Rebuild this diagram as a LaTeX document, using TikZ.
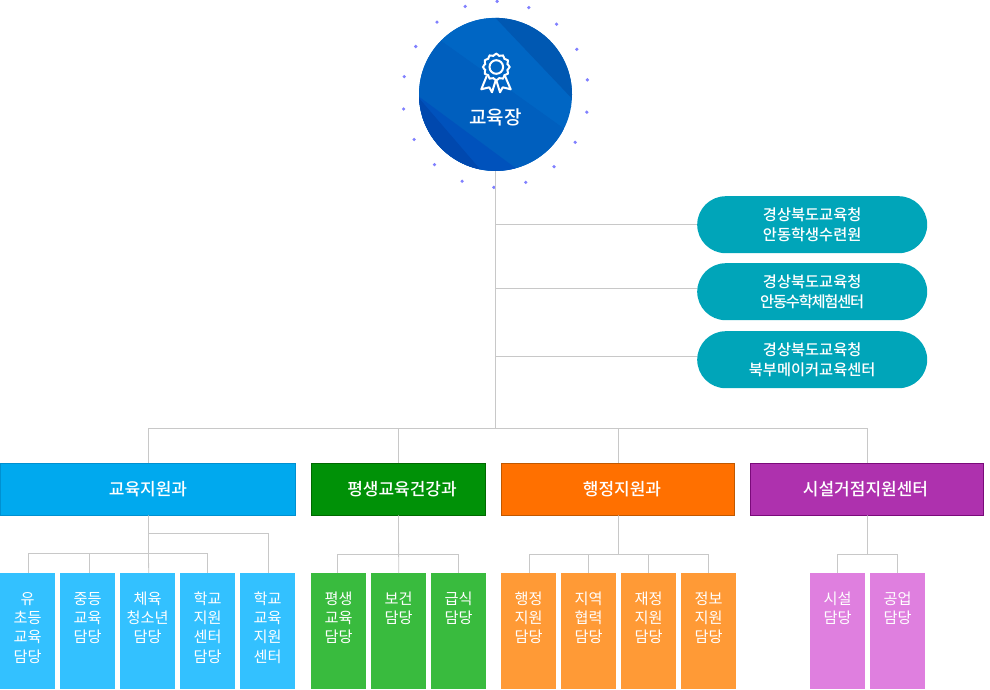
\documentclass[tikz,border=0pt]{standalone}
\usepackage{fontspec}
\newfontfamily\krfont{Noto Sans CJK KR}
\newfontfamily\krmid[UprightFont=* Medium]{Noto Sans CJK KR}
\newfontfamily\krtight[UprightFont=* Medium, LetterSpace=-8]{Noto Sans CJK KR}
\usetikzlibrary{calc, positioning}
\definecolor{linegray}{HTML}{C8C8C8}
\definecolor{pillteal}{HTML}{00A5B9}
\definecolor{ballblue}{HTML}{0066C4}
\definecolor{dotblue}{HTML}{8080FF}
\tikzset{
    branch/.style={draw=linegray, line width=.8pt},
    pillbox/.style={anchor=north west, fill=pillteal, rounded corners=28.5pt, minimum width=230pt, minimum height=57pt, inner sep=0pt, align=center, text=white, font=\krmid\fontsize{15.3}{19.5}\selectfont},
    barbox/.style={anchor=north west, minimum height=51.6pt, inner sep=0pt, line width=.8pt, text=white, font=\krmid\fontsize{17}{20}\selectfont},
    leafbox/.style={anchor=north west, text width=55pt, inner sep=0pt, align=center, text height=31pt, text depth=85pt, text=white, font=\krfont\fontsize{15.2}{19.3}\selectfont},
}
\begin{document}
\begin{tikzpicture}[x=1pt, y=-1pt]
    \useasboundingbox (0, 0) rectangle (990, 689);
    % head
    \node[circle, fill=ballblue, minimum size=153pt, inner sep=0pt] (head) at (495.5, 94.4) {};
    \begin{scope}
        \clip (495.5, 94.4) circle (76.5);
        \fill[color={rgb,255:red,0;green,95;blue,190}] (440, 40) -- (580, 140) -- (580, 175) -- (410, 175) -- (410, 10) -- cycle;
        \fill[color={rgb,255:red,0;green,102;blue,196}] (410, 10) -- (480, 10) -- (575, 110) -- (440, 40) -- (410, 30) -- cycle;
        \fill[color={rgb,255:red,0;green,88;blue,178}] (488, 10) -- (580, 107) -- (580, 10) -- cycle;
        \fill[color={rgb,255:red,0;green,82;blue,188}] (410, 90) -- (525, 175) -- (410, 175) -- cycle;
        \fill[color={rgb,255:red,0;green,72;blue,174}] (418, 97) -- (485, 175) -- (410, 175) -- cycle;
    \end{scope}
    \foreach \a in {0, 20, ..., 340}
        \fill[dotblue] (495.5, 94.4) ++(-89 + \a:93) circle (1.8);
    % badge
    \draw[white, line width=2pt, line join=round] (486.7, 76) -- (481.3, 89.3) -- (489.3, 87.3) -- (492, 92.3) -- (496, 79.3) -- (500, 92.3) -- (502.7, 87.3) -- (510.7, 89.3) -- (505, 76);
    \fill[ballblue] (496.3, 67) circle (12);
    \draw[white, line width=2pt] plot[smooth cycle, samples=48, domain=0:352.5] ({496.3 + (12.4 + .9*cos(12*\x))*cos(\x)}, {67 + (12.4 + .9*cos(12*\x))*sin(\x)});
    \draw[white, line width=2pt] (496.3, 67) circle (6.8);
    \node[text=white, inner sep=0pt, font=\krmid\fontsize{19}{22}\selectfont] (headLabel) at (495.5, 117) {교육장};
    % side offices
    \node[pillbox] (pillA) at (697, 196) {경상북도교육청\\안동학생수련원};
    \node[pillbox] (pillB) at (697, 263) {경상북도교육청\\{\krtight 안동수학체험센터}};
    \node[pillbox] (pillC) at (697, 331) {경상북도교육청\\북부메이커교육센터};
    % departments
    \node[barbox, fill={rgb,255:red,0;green,169;blue,238}, draw={rgb,255:red,0;green,144;blue,208}, minimum width=295.2pt] (eduBar) at (0, 463) {교육지원과};
    \node[barbox, fill={rgb,255:red,0;green,145;blue,7}, draw={rgb,255:red,0;green,105;blue,0}, minimum width=174.2pt] (lifeBar) at (311, 463) {\hspace*{7pt}평생교육건강과};
    \node[barbox, fill={rgb,255:red,255;green,112;blue,0}, draw={rgb,255:red,192;green,88;blue,0}, minimum width=233.2pt] (admBar) at (501, 463) {\hspace*{8pt}행정지원과};
    \node[barbox, fill={rgb,255:red,174;green,49;blue,174}, draw={rgb,255:red,122;green,10;blue,122}, minimum width=233.2pt] (facBar) at (750, 463) {시설거점지원센터\hspace*{3pt}};
    % teams
    \node[leafbox, fill={rgb,255:red,51;green,193;blue,255}] (eduA) at (0, 573) {유\\초등\\교육\\담당};
    \node[leafbox, fill={rgb,255:red,51;green,193;blue,255}] (eduB) at (60, 573) {중등\\교육\\담당};
    \node[leafbox, fill={rgb,255:red,51;green,193;blue,255}] (eduC) at (120, 573) {체육\\청소년\\담당};
    \node[leafbox, fill={rgb,255:red,51;green,193;blue,255}] (eduD) at (180, 573) {학교\\지원\\센터\\담당};
    \node[leafbox, fill={rgb,255:red,51;green,193;blue,255}] (eduE) at (240, 573) {학교\\교육\\지원\\센터};
    \node[leafbox, fill={rgb,255:red,57;green,187;blue,62}] (lifeA) at (311, 573) {평생\\교육\\담당};
    \node[leafbox, fill={rgb,255:red,57;green,187;blue,62}] (lifeB) at (371, 573) {보건\\담당};
    \node[leafbox, fill={rgb,255:red,57;green,187;blue,62}] (lifeC) at (431, 573) {급식\\담당};
    \node[leafbox, fill={rgb,255:red,255;green,154;blue,54}] (admA) at (501, 573) {행정\\지원\\담당};
    \node[leafbox, fill={rgb,255:red,255;green,154;blue,54}] (admB) at (561, 573) {지역\\협력\\담당};
    \node[leafbox, fill={rgb,255:red,255;green,154;blue,54}] (admC) at (621, 573) {재정\\지원\\담당};
    \node[leafbox, fill={rgb,255:red,255;green,154;blue,54}] (admD) at (681, 573) {정보\\지원\\담당};
    \node[leafbox, fill={rgb,255:red,223;green,127;blue,223}] (facA) at (810, 573) {시설\\담당};
    \node[leafbox, fill={rgb,255:red,223;green,127;blue,223}] (facB) at (870, 573) {공업\\담당};
    % trunk
    \coordinate (split) at (495.5, 428.5);
    \draw[branch] (head.south) -- (split);
    \draw[branch] (pillA.west) -| (head.south);
    \draw[branch] ([yshift=3.2pt]pillB.west) -| (head.south);
    \draw[branch] ([yshift=3.5pt]pillC.west) -| (head.south);
    \draw[branch] ([xshift=.5pt]eduBar.north) |- (split);
    \draw[branch] (lifeBar.north) |- (split);
    \draw[branch] ([xshift=.5pt]admBar.north) |- (split);
    \draw[branch] ([xshift=.5pt]facBar.north) |- (split);
    % team lines
    \coordinate (eduSplit) at (148.5, 553.5);
    \coordinate (eduUpper) at (148.5, 533.5);
    \coordinate (lifeSplit) at (398.5, 554.5);
    \coordinate (admSplit) at (618.5, 554.5);
    \coordinate (facSplit) at (867.5, 554.5);
    \draw[branch] ([xshift=.5pt]eduBar.south) -- (eduSplit);
    \draw[branch] (eduSplit) -- ([xshift=1pt]eduC.north);
    \draw[branch] ([xshift=.7pt]eduA.north) |- (eduSplit);
    \draw[branch] ([xshift=1.5pt]eduB.north) |- (eduSplit);
    \draw[branch] (eduD.north) |- (eduSplit);
    \draw[branch] ([xshift=.7pt]eduE.north) |- (eduUpper);
    \draw[branch] (lifeBar.south) -- (lifeB.north);
    \draw[branch] ([xshift=-1pt]lifeA.north) |- (lifeSplit);
    \draw[branch] (lifeC.north) |- (lifeSplit);
    \draw[branch] ([xshift=.5pt]admBar.south) -- (admSplit);
    \draw[branch] ([xshift=.7pt]admA.north) |- (admSplit);
    \draw[branch] (admB.north) |- (admSplit);
    \draw[branch] (admC.north) |- (admSplit);
    \draw[branch] (admD.north) |- (admSplit);
    \draw[branch] ([xshift=.5pt]facBar.south) -- (facSplit);
    \draw[branch] (facA.north) |- (facSplit);
    \draw[branch] (facB.north) |- (facSplit);
\end{tikzpicture}
\end{document}
